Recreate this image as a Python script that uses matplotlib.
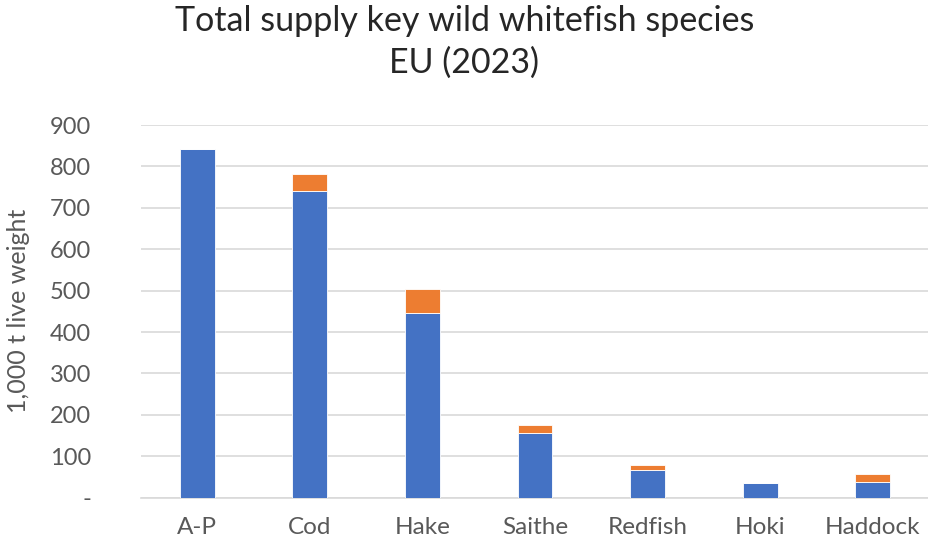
import matplotlib.pyplot as plt
import numpy as np

species = ["A-P", "Cod", "Hake", "Saithe", "Redfish", "Hoki", "Haddock"]
# supply split into two stacked parts (1,000 t live weight)
base_supply = [842, 741, 445, 156, 66, 35, 39]
extra_supply = [0, 40, 58, 20, 14, 0, 18]
yticks = [0, 100, 200, 300, 400, 500, 600, 700, 800, 900]
ytick_labels = ["-", "100", "200", "300", "400", "500", "600", "700", "800", "900"]

BLUE = "#4472C4"
ORANGE = "#ED7D31"
TEXT = "#595959"

plt.rcParams["font.family"] = ["Lato", "DejaVu Sans"]

fig = plt.figure(figsize=(9.29, 5.44), dpi=100)
ax = fig.add_axes([141 / 929, 1 - 497.7 / 544, (929 - 141) / 929, (497.7 - 125) / 544])

x = np.arange(len(species))
width = 0.31
ax.bar(x, base_supply, width, color=BLUE, edgecolor="white", linewidth=0.6, zorder=3)
ax.bar(x, extra_supply, width, bottom=base_supply, color=ORANGE,
       edgecolor="white", linewidth=0.6, zorder=3)

ax.set_xlim(-0.5, len(species) - 0.5)
ax.set_ylim(0, 900)
ax.set_yticks(yticks)
ax.set_yticklabels(ytick_labels)
ax.set_xticks(x)
ax.set_xticklabels(species)
ax.yaxis.grid(True, color="#D9D9D9", linewidth=1.2, zorder=0)
ax.set_axisbelow(True)
for side in ["top", "right", "left"]:
    ax.spines[side].set_visible(False)
ax.spines["bottom"].set_color("#D9D9D9")
ax.spines["bottom"].set_linewidth(1.2)
ax.tick_params(axis="both", length=0, colors=TEXT)
ax.tick_params(axis="y", labelsize=17, pad=36)
ax.tick_params(axis="x", labelsize=17.5, pad=14)

ax.set_ylabel("1,000 t live weight", fontsize=18, color=TEXT, labelpad=14)

fig.text(0.5, 0.99, "Total supply key wild whitefish species\nEU (2023)",
         ha="center", va="top", fontsize=24.5, color="#262626", linespacing=1.35)

fig.savefig("out.png", dpi=100)
